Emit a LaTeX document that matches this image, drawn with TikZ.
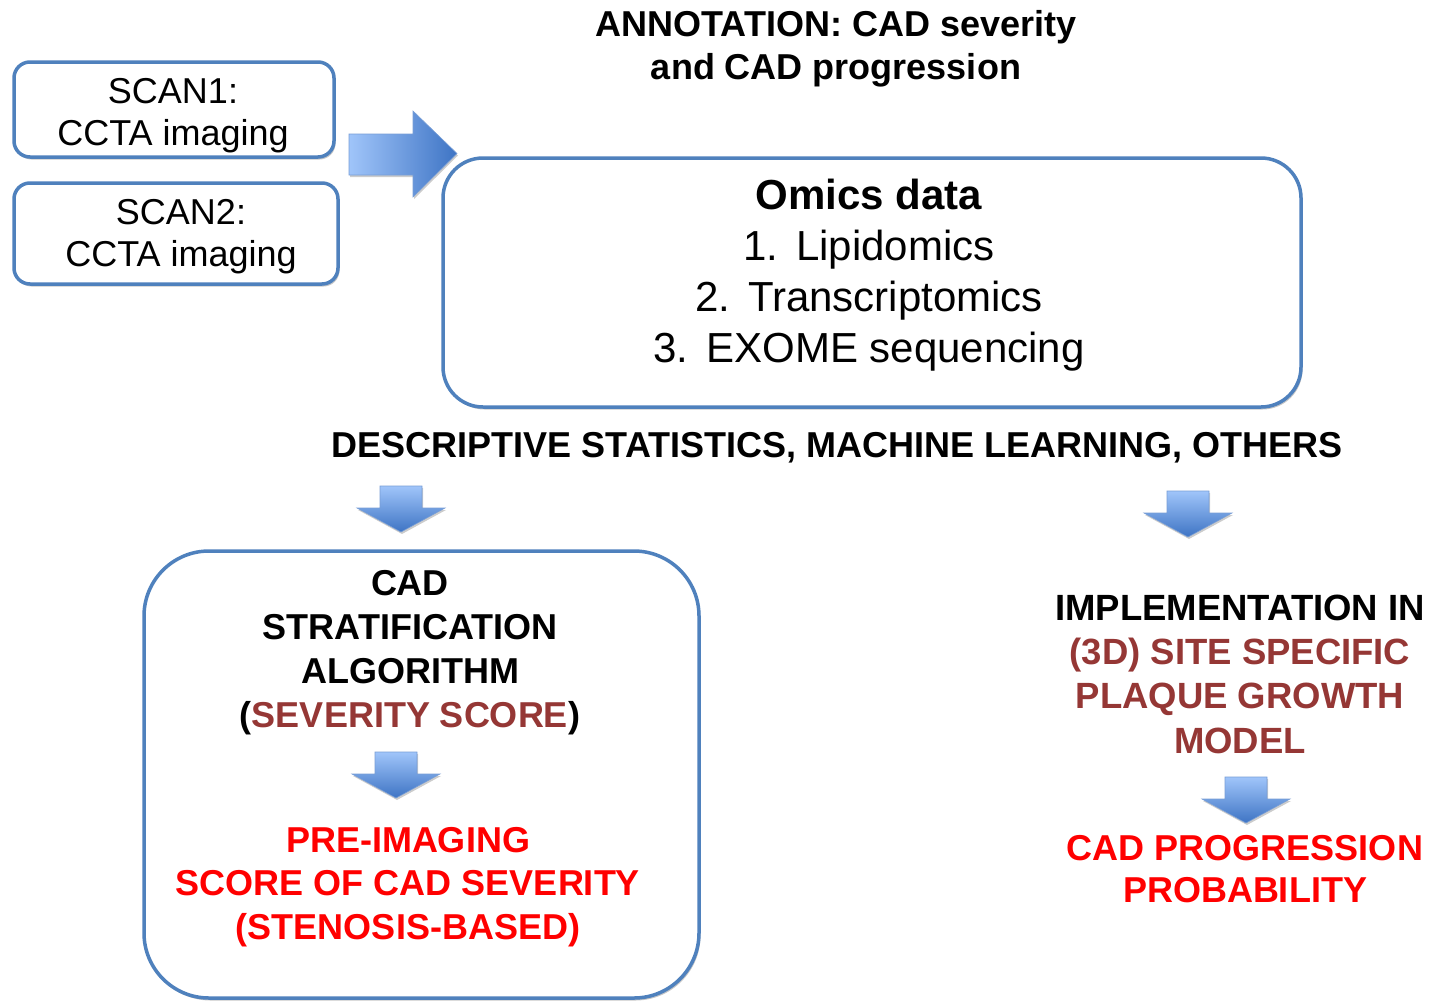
\documentclass[tikz,border=0pt]{standalone}
\usepackage{fontspec}
\setmainfont{Liberation Sans}
\usetikzlibrary{shadows}
\definecolor{boxblue}{RGB}{79,129,189}
\definecolor{brick}{RGB}{149,55,53}
\definecolor{arrowlight}{RGB}{160,197,250}
\definecolor{arrowdark}{RGB}{62,116,196}
\newcommand\fs[2]{\fontsize{#1}{#2}\selectfont}
% block arrow pointing down: centre x, top y
\newcommand\downblock[2]{%
  \path[blockarrow] (#1-21,#2) -- (#1+21,#2) -- (#1+21,#2+22) -- (#1+44,#2+22)
    -- (#1,#2+46) -- (#1-44,#2+22) -- (#1-21,#2+22) -- cycle;}
\tikzset{
  panel/.style={draw=boxblue, line width=3.5pt, fill=white, inner sep=0pt,
    drop shadow={shadow xshift=1.5pt, shadow yshift=-2.5pt, opacity=0.22, fill=black}},
  txt/.style={align=center, inner sep=0pt, anchor=base},
  blockarrow/.style={top color=arrowlight, bottom color=arrowdark,
    draw=arrowdark!70!white, line width=0.6pt,
    drop shadow={shadow xshift=1pt, shadow yshift=-2pt, opacity=0.2, fill=black}},
  sidearrow/.style={left color=arrowlight, right color=arrowdark,
    draw=arrowdark!70!white, line width=0.6pt,
    drop shadow={shadow xshift=1pt, shadow yshift=-2pt, opacity=0.2, fill=black}},
}
\begin{document}
\begin{tikzpicture}[x=1pt,y=-1pt]
\useasboundingbox[fill=white] (0,0) rectangle (1435,1002);

% scans feeding the omics panel
\path[sidearrow] (349,134) -- (413,134) -- (413,111) -- (457,153.5) -- (413,197)
  -- (413,175) -- (349,175) -- cycle;

\node[panel, rounded corners=16pt, minimum width=320pt, minimum height=95pt] (scan1) at (174,109.5) {};
\node[txt, font=\fs{36}{42}] (scan1txt) at (173,145) {SCAN1:\\CCTA imaging};

\node[panel, rounded corners=16pt, minimum width=324pt, minimum height=101pt] (scan2) at (176,233.5) {};
\node[txt, font=\fs{36}{42}] (scan2txt) at (181,266) {SCAN2:\\CCTA imaging};

\node[txt, font=\fs{36}{43}\bfseries] (annot) at (836,79) {ANNOTATION: CAD severity\\and CAD progression};

% omics panel
\node[panel, rounded corners=40pt, minimum width=858pt, minimum height=249pt] (omics) at (872,282.5) {};
\node[txt, font=\fs{42}{51}] (omicstxt) at (869,362)
  {\textbf{Omics data}\\1.\hspace{18pt}Lipidomics\\2.\hspace{18pt}Transcriptomics\\3.\hspace{18pt}EXOME sequencing};

\node[txt, font=\fs{36}{43}\bfseries] (methods) at (837,457)
  {DESCRIPTIVE STATISTICS, MACHINE LEARNING, OTHERS};

\downblock{401}{486}
\downblock{1188}{491}

% stratification panel
\node[panel, rounded corners=65pt, minimum width=555pt, minimum height=447pt] (strat) at (421.5,774.5) {};
\node[txt, font=\fs{36}{43.7}\bfseries] (strattxt) at (410,727)
  {CAD\\STRATIFICATION\\ALGORITHM\\(\textcolor{brick}{SEVERITY SCORE})};
\downblock{396}{752}
\node[txt, font=\fs{36}{43.5}\bfseries, text=red] (pretxt) at (408,939)
  {PRE-IMAGING\\SCORE OF CAD SEVERITY\\(STENOSIS-BASED)};

% growth model branch
\node[txt, font=\fs{36.5}{44.3}\bfseries] (impl) at (1240,753)
  {IMPLEMENTATION IN\\\textcolor{brick}{(3D) SITE SPECIFIC}\\\textcolor{brick}{PLAQUE GROWTH}\\\textcolor{brick}{MODEL}};
\downblock{1246}{777}
\node[txt, font=\fs{36}{42}\bfseries, text=red] (prob) at (1245,902)
  {CAD PROGRESSION\\PROBABILITY};
\end{tikzpicture}
\end{document}
